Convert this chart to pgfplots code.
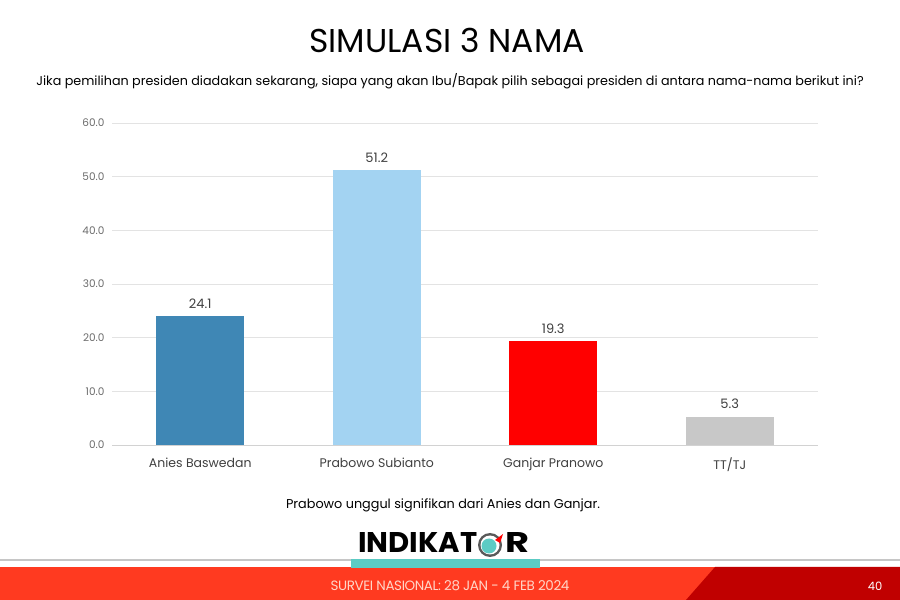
\documentclass[border=0pt]{standalone}
\usepackage{fontspec}
\setmainfont{Poppins}
\usepackage{graphicx}
\usepackage{pgfplots}
\pgfplotsset{compat=1.18}
\definecolor{anies}{HTML}{3F87B5}
\definecolor{prabowo}{HTML}{A3D3F2}
\definecolor{ganjar}{HTML}{FF0000}
\definecolor{ttj}{HTML}{C8C8C8}
\definecolor{redbar}{HTML}{FF3A20}
\definecolor{darkred}{HTML}{C00000}
\definecolor{teal}{HTML}{5CCBC4}
\definecolor{txt}{HTML}{404040}
\begin{document}
\begin{tikzpicture}[x=1pt,y=1pt]
\useasboundingbox (0,0) rectangle (900,600);
\fill[white] (0,0) rectangle (900,600);
\node[font=\fontsize{33}{38}\selectfont, text=black] at (447,560) {SIMULASI 3 NAMA};
\node[font=\fontsize{12.75}{14}\selectfont, text=black] at (450,519) {Jika pemilihan presiden diadakan sekarang, siapa yang akan Ibu/Bapak pilih sebagai presiden di antara nama-nama berikut ini?};
\begin{axis}[at={(112pt,155pt)}, anchor=south west, scale only axis,
  width=706pt, height=322pt,
  xmin=-0.5, xmax=3.5, ymin=0, ymax=60,
  ytick={0,10,20,30,40,50,60},
  xtick={0,1,2,3},
  xticklabels={Anies Baswedan, Prabowo Subianto, Ganjar Pranowo, TT/TJ},
  ymajorgrids, grid style={draw=gray!22, line width=0.8pt},
  axis x line*=bottom, axis y line*=left,
  y axis line style={draw=none},
  x axis line style={draw=gray!35, line width=0.8pt},
  major tick length=0pt,
  yticklabel style={font=\fontsize{10.5}{12}\selectfont, text=gray!85!black, xshift=-4pt},
  xticklabel style={font=\fontsize{12.5}{14}\selectfont, text=txt, yshift=-9pt},
  /pgf/number format/.cd, fixed, fixed zerofill, precision=1, assume math mode=true,
  /pgfplots/.cd,
  clip=false,
]
\addplot[ybar, bar width=88pt, fill=anies, draw=none,
  nodes near coords, nodes near coords style={font=\fontsize{13}{14}\selectfont, text=txt, yshift=4pt}] coordinates {(0,24.1)};
\addplot[ybar, bar width=88pt, fill=prabowo, draw=none,
  nodes near coords, nodes near coords style={font=\fontsize{13}{14}\selectfont, text=txt, yshift=4pt}] coordinates {(1,51.2)};
\addplot[ybar, bar width=88pt, fill=ganjar, draw=none,
  nodes near coords, nodes near coords style={font=\fontsize{13}{14}\selectfont, text=txt, yshift=4pt}] coordinates {(2,19.3)};
\addplot[ybar, bar width=88pt, fill=ttj, draw=none,
  nodes near coords, nodes near coords style={font=\fontsize{13}{14}\selectfont, text=txt, yshift=4pt}] coordinates {(3,5.3)};
\end{axis}
\node[font=\fontsize{12.8}{14}\selectfont, text=black] at (443,95) {Prabowo unggul signifikan dari Anies dan Ganjar.};
% logo
\node[anchor=south west, inner sep=0pt] at (358,47) {\resizebox{119pt}{20pt}{\bfseries INDIKAT}};
\node[anchor=south west, inner sep=0pt] at (505,47) {\resizebox{24pt}{20pt}{\bfseries R}};
\fill[gray!70!black] (490,55) circle (12);
\fill[white] (490,55) circle (9.5);
\fill[teal] (489,54) circle (7.5);
\fill[red] (495,60) -- (503,66) -- (500,57) -- cycle;
% footer
\draw[gray!45, line width=1.5pt] (0,40) -- (900,40);
\fill[redbar] (0,0) rectangle (900,33);
\fill[darkred] (686,0) -- (715,33) -- (900,33) -- (900,0) -- cycle;
\fill[teal] (351,32) rectangle (540,41);
\node[font=\fontsize{13.5}{15}\selectfont, text={rgb,255:red,255;green,214;blue,200}] at (450,14) {\addfontfeatures{LetterSpace=-3}SURVEI NASIONAL: 28 JAN - 4 FEB 2024};
\node[font=\fontsize{11.5}{13}\selectfont, text=white] at (875,14) {40};
\end{tikzpicture}
\end{document}
